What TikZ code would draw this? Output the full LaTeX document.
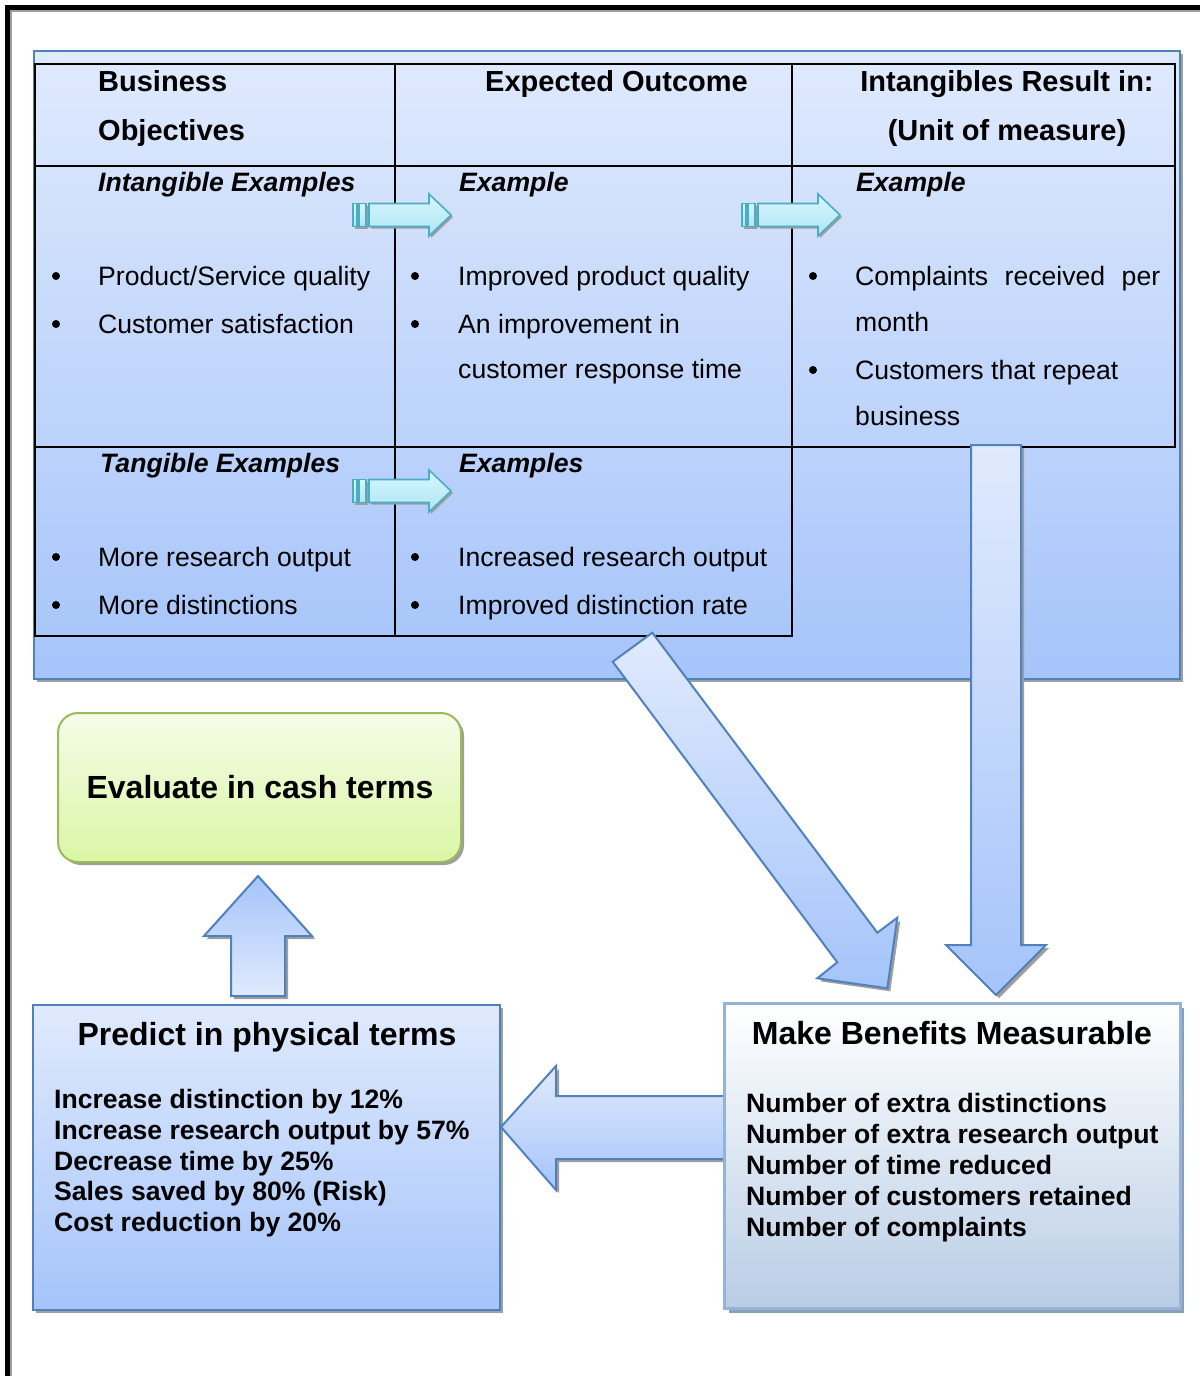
\documentclass[tikz,border=0pt]{standalone}
\usepackage{fontspec}
\setmainfont{Liberation Sans}

\definecolor{panelTop}{RGB}{224,234,253}
\definecolor{panelBot}{RGB}{165,196,250}
\definecolor{blueEdge}{RGB}{79,129,189}
\definecolor{cyanTop}{RGB}{216,247,253}
\definecolor{cyanBot}{RGB}{172,229,244}
\definecolor{cyanEdge}{RGB}{75,172,198}
\definecolor{greenTop}{RGB}{245,252,232}
\definecolor{greenBot}{RGB}{218,246,165}
\definecolor{greenEdge}{RGB}{155,187,89}
\definecolor{mbTop}{RGB}{255,255,255}
\definecolor{mbBot}{RGB}{185,205,229}
\definecolor{mbEdge}{RGB}{149,179,215}
\definecolor{mbShadow}{RGB}{140,158,184}
\definecolor{shadowGray}{RGB}{158,158,158}

\tikzset{
  panelfill/.style={top color=panelTop,bottom color=panelBot,draw=blueEdge,line width=2pt},
  arrowfill/.style={top color=panelTop,bottom color=panelBot,draw=blueEdge,line width=2pt,line join=miter},
  uparrowfill/.style={top color=panelBot,bottom color=panelTop,draw=blueEdge,line width=2pt,line join=miter},
  cyanfill/.style={top color=cyanTop,bottom color=cyanBot,draw=cyanEdge,line width=1.6pt},
  dropshadow/.style={fill=shadowGray,draw=none,xshift=3pt,yshift=-3pt},
  grid/.style={line width=2pt,line cap=rect},
  txthdr/.style={font=\fontsize{29}{34}\selectfont\bfseries,inner sep=0,anchor=base west},
  txtbody/.style={font=\fontsize{26.6}{31}\selectfont,inner sep=0,anchor=base west},
  txtsub/.style={font=\fontsize{26.6}{31}\selectfont\bfseries\itshape,inner sep=0,anchor=base west},
  txttitle/.style={font=\fontsize{32}{38}\selectfont\bfseries,inner sep=0,anchor=base},
  txtlist/.style={font=\fontsize{26.6}{31}\selectfont\bfseries,inner sep=0,anchor=base west},
  bulletdot/.style={fill=black}
}

% small cyan "striped" arrow, origin at the left end of the stripes, mid height
\newcommand{\stripedarrow}[1]{%
  \begin{scope}[shift={#1}]
    \begin{scope}[xshift=2pt,yshift=-2pt]
      \fill[shadowGray] (0,-11.5) rectangle (13,11.5);
      \fill[shadowGray] (16,-11.5) -- (76,-11.5) -- (76,-21) -- (98,0) -- (76,21) -- (76,11.5) -- (16,11.5) -- cycle;
    \end{scope}
    \path[cyanfill] (0,-11.5) rectangle (4,11.5);
    \path[cyanfill] (6,-11.5) rectangle (13,11.5);
    \path[cyanfill] (16,-11.5) -- (76,-11.5) -- (76,-21) -- (98,0) -- (76,21) -- (76,11.5) -- (16,11.5) -- cycle;
  \end{scope}}

\begin{document}
\begin{tikzpicture}[x=1pt,y=-1pt]
\useasboundingbox (0,0) rectangle (1200,1376);
\fill[white] (0,0) rectangle (1200,1376);

% page frame
\draw[shadowGray,line width=1.2pt] (11,1376) -- (11,11) -- (1200,11);
\draw[line width=5.5pt] (7.5,1376) -- (7.5,7.5) -- (1200,7.5);

% ---------- upper panel with the table ----------
\fill[dropshadow] (34,51) rectangle (1180,679);
\path[panelfill] (34,51) rectangle (1180,679);
\node[inner sep=0] (panel) at (607,365) {};

% table rules
\draw[grid] (35,64) -- (1175,64);
\draw[grid] (35,166) -- (1175,166);
\draw[grid] (35,447) -- (1175,447);
\draw[grid] (35,636) -- (792,636);
\draw[grid] (35,64) -- (35,636);
\draw[grid] (395,64) -- (395,636);
\draw[grid] (792,64) -- (792,636);
\draw[grid] (1175,64) -- (1175,447);

% header row
\node[txthdr] (h1a) at (98,91) {Business};
\node[txthdr] (h1b) at (98,140) {Objectives};
\node[txthdr] (h2) at (485,91) {Expected Outcome};
\node[txthdr,anchor=base] (h3a) at (1007,91) {Intangibles Result in:};
\node[txthdr,anchor=base] (h3b) at (1007,140) {(Unit of measure)};

% intangible row
\node[txtsub] (s1) at (98,191) {Intangible Examples};
\node[txtsub] (s2) at (459,191) {Example};
\node[txtsub] (s3) at (856,191) {Example};

\fill[bulletdot] (56,276) circle (4);
\fill[bulletdot] (56,324) circle (4);
\node[txtbody] (i1a) at (98,285) {Product/Service quality};
\node[txtbody] (i1b) at (98,333) {Customer satisfaction};

\fill[bulletdot] (415,276) circle (4);
\fill[bulletdot] (415,324) circle (4);
\node[txtbody] (i2a) at (458,285) {Improved product quality};
\node[txtbody] (i2b) at (458,333) {An improvement in};
\node[txtbody] (i2c) at (458,378) {customer response time};

\fill[bulletdot] (813,276) circle (4);
\fill[bulletdot] (813,370) circle (4);
\node[txtbody] (i3a) at (855,285) {\makebox[305pt][l]{Complaints\hfill received\hfill per}};
\node[txtbody] (i3b) at (855,331) {month};
\node[txtbody] (i3c) at (855,379) {Customers that repeat};
\node[txtbody] (i3d) at (855,425) {business};

% tangible row
\node[txtsub] (t1) at (100,472) {Tangible Examples};
\node[txtsub] (t2) at (459,472) {Examples};

\fill[bulletdot] (56,557) circle (4);
\fill[bulletdot] (56,605) circle (4);
\node[txtbody] (t1a) at (98,566) {More research output};
\node[txtbody] (t1b) at (98,614) {More distinctions};

\fill[bulletdot] (415,557) circle (4);
\fill[bulletdot] (415,605) circle (4);
\node[txtbody] (t2a) at (458,566) {Increased research output};
\node[txtbody] (t2b) at (458,614) {Improved distinction rate};

% small arrows between columns
\stripedarrow{(353,215)}
\stripedarrow{(742,215)}
\stripedarrow{(353,491)}

% ---------- lower part ----------
% evaluate box
\fill[dropshadow,rounded corners=20pt] (58,713) rectangle (461,862);
\path[top color=greenTop,bottom color=greenBot,draw=greenEdge,line width=2pt,rounded corners=20pt] (58,713) rectangle (461,862);
\node[txttitle] (evaluate) at (260,798) {Evaluate in cash terms};

% up arrow
\fill[dropshadow] (258,876) -- (312,936) -- (285,936) -- (285,996) -- (231,996) -- (231,936) -- (204,936) -- cycle;
\path[uparrowfill] (258,876) -- (312,936) -- (285,936) -- (285,996) -- (231,996) -- (231,936) -- (204,936) -- cycle;

% predict box
\fill[dropshadow] (33,1005) rectangle (500,1310);
\path[panelfill] (33,1005) rectangle (500,1310);
\node[txttitle] (predict) at (267,1045) {Predict in physical terms};
\node[txtlist] (p1) at (54,1108) {Increase distinction by 12\%};
\node[txtlist] (p2) at (54,1139) {Increase research output by 57\%};
\node[txtlist] (p3) at (54,1170) {Decrease time by 25\%};
\node[txtlist] (p4) at (54,1200) {Sales saved by 80\% (Risk)};
\node[txtlist] (p5) at (54,1231) {Cost reduction by 20\%};

% diagonal arrow
\fill[dropshadow] (652.3,632.7) -- (877.3,932.7) -- (897.3,917.7) -- (887.3,988.3) -- (817.3,978.3) -- (837.3,962.3) -- (612.7,661.7) -- cycle;
\path[arrowfill] (652.3,632.7) -- (877.3,932.7) -- (897.3,917.7) -- (887.3,988.3) -- (817.3,978.3) -- (837.3,962.3) -- (612.7,661.7) -- cycle;

% vertical arrow
\fill[dropshadow] (971,445) -- (1021,445) -- (1021,945) -- (1046,945) -- (996,995) -- (946,945) -- (971,945) -- cycle;
\path[arrowfill] (971,445) -- (1021,445) -- (1021,945) -- (1046,945) -- (996,995) -- (946,945) -- (971,945) -- cycle;

% left arrow
\fill[dropshadow] (501,1127) -- (556,1066) -- (556,1096) -- (726,1096) -- (726,1159) -- (556,1159) -- (556,1190) -- cycle;
\path[arrowfill] (501,1127) -- (556,1066) -- (556,1096) -- (726,1096) -- (726,1159) -- (556,1159) -- (556,1190) -- cycle;

% measurable box
\fill[mbShadow] (729,1008) rectangle (1184,1313);
\path[top color=mbTop,bottom color=mbBot,draw=mbEdge,line width=3pt] (724,1003) rectangle (1180,1308);
\node[txttitle] (measurable) at (952,1044) {Make Benefits Measurable};
\node[txtlist] (m1) at (746,1112) {Number of extra distinctions};
\node[txtlist] (m2) at (746,1143) {Number of extra research output};
\node[txtlist] (m3) at (746,1174) {Number of time reduced};
\node[txtlist] (m4) at (746,1205) {Number of customers retained};
\node[txtlist] (m5) at (746,1236) {Number of complaints};
\end{tikzpicture}
\end{document}
